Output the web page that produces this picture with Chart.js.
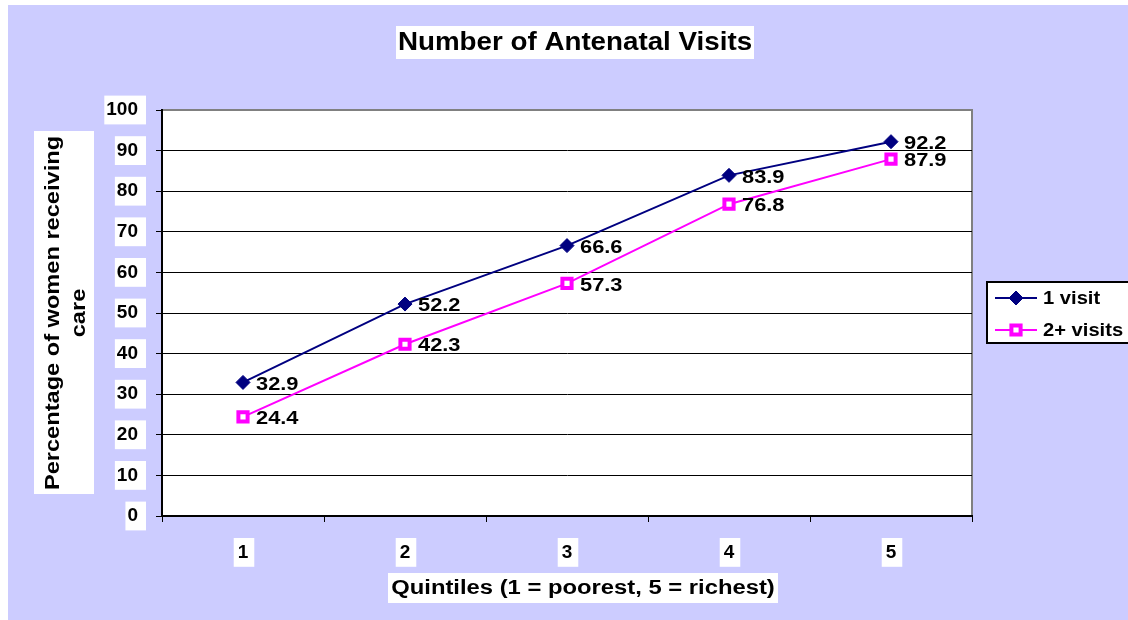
<!DOCTYPE html>
<html>
<head>
<meta charset="utf-8">
<title>Number of Antenatal Visits</title>
<script src="https://cdn.jsdelivr.net/npm/chart.js@4/dist/chart.umd.min.js"></script>
<style>
  body { margin: 0; background: #fff; }
  canvas { display: block; }
</style>
</head>
<body>
<canvas id="visitsChart" width="1128" height="620"></canvas>
<script>
const quintiles = ['1', '2', '3', '4', '5'];
const oneVisit = [32.9, 52.2, 66.6, 83.9, 92.2];
const twoPlusVisits = [24.4, 42.3, 57.3, 76.8, 87.9];
const seriesNames = ['1 visit', '2+ visits'];
const chartTitle = 'Number of Antenatal Visits';
const yTitleLines = ['Percentage of women receiving', 'care'];
const xTitle = 'Quintiles (1 = poorest, 5 = richest)';

const FONT = '"Liberation Sans", Arial, sans-serif';

// text in the original is a bit wider than its height suggests, so stretch it
function wideText(ctx, text, x, y, font, sx, align) {
    ctx.save();
    ctx.font = font;
    ctx.textAlign = align || 'center';
    ctx.textBaseline = 'middle';
    ctx.fillStyle = '#000';
    ctx.translate(x, y);
    ctx.scale(sx, 1);
    ctx.fillText(text, 0, 0);
    ctx.restore();
}

const decorPlugin = {
    id: 'decor',
    beforeDraw(chart) {
        const ctx = chart.ctx;
        const area = chart.chartArea;
        ctx.save();
        ctx.fillStyle = '#fff';
        ctx.fillRect(0, 0, chart.width, chart.height);
        ctx.fillStyle = '#CCCCFF';
        ctx.fillRect(8, 5, chart.width - 8, chart.height - 5);
        ctx.fillStyle = '#fff';
        ctx.fillRect(area.left, area.top, area.right - area.left, area.bottom - area.top);
        ctx.strokeStyle = '#808080';
        ctx.lineWidth = 2;
        ctx.beginPath();
        ctx.moveTo(area.left, area.top);
        ctx.lineTo(area.right, area.top);
        ctx.lineTo(area.right, area.bottom);
        ctx.stroke();

        // title
        ctx.fillStyle = '#fff';
        ctx.fillRect(396, 26, 358, 33);
        wideText(ctx, chartTitle, 575, 43, 'bold 25px ' + FONT, 1.11);

        // x title
        ctx.fillStyle = '#fff';
        ctx.fillRect(388, 573, 390, 30);
        wideText(ctx, xTitle, 583, 588, 'bold 20px ' + FONT, 1.19);

        // y title
        ctx.fillStyle = '#fff';
        ctx.fillRect(34, 131, 60, 363);
        ctx.translate(64, 313);
        ctx.rotate(-Math.PI / 2);
        wideText(ctx, yTitleLines[0], 0, -11, 'bold 20px ' + FONT, 1.18);
        wideText(ctx, yTitleLines[1], 0, 15, 'bold 20px ' + FONT, 1.18);
        ctx.restore();
    },
    afterDatasetsDraw(chart) {
        const ctx = chart.ctx;
        ctx.save();
        chart.data.datasets.forEach((ds, i) => {
            chart.getDatasetMeta(i).data.forEach((pt, j) => {
                wideText(ctx, ds.data[j].toFixed(1), pt.x + 13, pt.y + 2, 'bold 19px ' + FONT, 1.15, 'left');
            });
        });

        // legend
        ctx.fillStyle = '#fff';
        ctx.fillRect(987, 282, 150, 61);
        ctx.strokeStyle = '#000';
        ctx.lineWidth = 2;
        ctx.strokeRect(987, 282, 150, 61);
        chart.data.datasets.forEach((ds, i) => {
            const y = 298 + i * 32;
            ctx.strokeStyle = ds.borderColor;
            ctx.lineWidth = 2;
            ctx.beginPath();
            ctx.moveTo(995, y);
            ctx.lineTo(1037, y);
            ctx.stroke();
            ctx.fillStyle = ds.pointBackgroundColor;
            ctx.strokeStyle = ds.pointBorderColor;
            ctx.lineWidth = ds.pointBorderWidth;
            Chart.helpers.drawPoint(ctx, {
                pointStyle: ds.pointStyle,
                radius: ds.pointRadius,
                borderWidth: ds.pointBorderWidth,
                rotation: 0
            }, 1016, y);
            wideText(ctx, seriesNames[i], 1043, y + 1, 'bold 18px ' + FONT, 1.12, 'left');
        });
        ctx.restore();
    }
};

const ctx = document.getElementById('visitsChart').getContext('2d');
const visitsChart = new Chart(ctx, {
    type: 'line',
    data: {
        labels: quintiles,
        datasets: [{
            label: seriesNames[0],
            data: oneVisit,
            borderColor: '#000080',
            backgroundColor: '#000080',
            pointBackgroundColor: '#000080',
            pointBorderColor: '#000080',
            pointStyle: 'rectRot',
            pointRadius: 7,
            pointBorderWidth: 1,
            borderWidth: 2,
            tension: 0
        }, {
            label: seriesNames[1],
            data: twoPlusVisits,
            borderColor: '#FF00FF',
            backgroundColor: '#FF00FF',
            pointBackgroundColor: '#fff',
            pointBorderColor: '#FF00FF',
            pointStyle: 'rect',
            pointRadius: 6.5,
            pointBorderWidth: 4,
            borderWidth: 2,
            tension: 0
        }]
    },
    options: {
        responsive: false,
        animation: false,
        layout: { padding: { top: 110, left: 0, right: 156, bottom: 0 } },
        plugins: {
            legend: { display: false },
            title: { display: false },
            tooltip: { enabled: false }
        },
        scales: {
            x: {
                offset: true,
                afterFit: s => { s.height = 104; },
                grid: {
                    offset: true,
                    drawOnChartArea: false,
                    drawTicks: true,
                    tickLength: 6,
                    color: '#000',
                    tickColor: '#000'
                },
                border: { display: true, color: '#000', width: 2 },
                ticks: {
                    color: '#000',
                    font: { family: FONT, size: 19, weight: 'bold' },
                    padding: 19,
                    maxRotation: 0,
                    showLabelBackdrop: true,
                    backdropColor: '#fff',
                    backdropPadding: { top: 3, bottom: 3, left: 4, right: 6 }
                }
            },
            y: {
                min: 0,
                max: 100,
                afterFit: s => { s.width = 162; },
                grid: {
                    color: c => (c.tick && c.tick.value === 100 ? '#808080' : '#000'),
                    tickColor: '#000',
                    tickLength: 6,
                    lineWidth: 1
                },
                border: { display: true, color: '#000', width: 2 },
                ticks: {
                    stepSize: 10,
                    color: '#000',
                    font: { family: FONT, size: 19, weight: 'bold' },
                    padding: 18,
                    showLabelBackdrop: true,
                    backdropColor: '#fff',
                    backdropPadding: { top: 3, bottom: 3, left: 2, right: 8 }
                }
            }
        }
    },
    plugins: [decorPlugin]
});
</script>
</body>
</html>
